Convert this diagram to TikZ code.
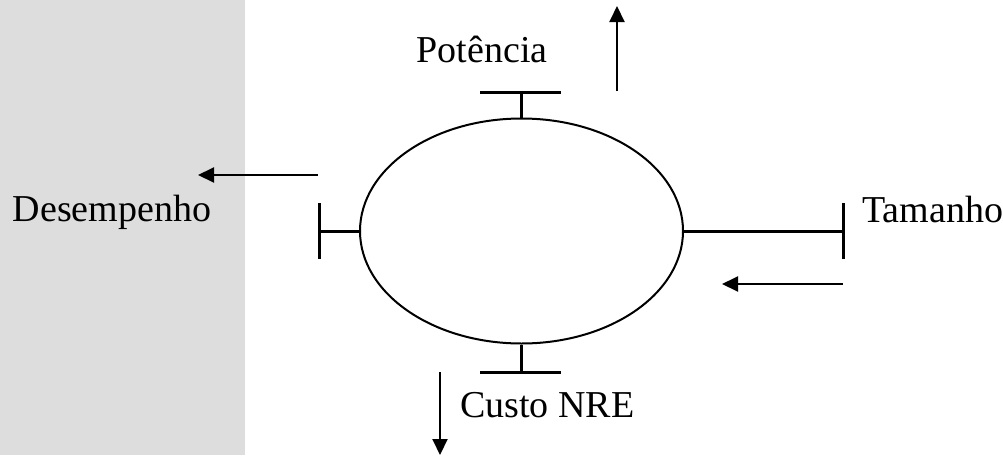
\documentclass[tikz,border=0pt]{standalone}
\usepackage{fontspec}
\setmainfont{Liberation Serif}
\usetikzlibrary{arrows.meta,shapes.geometric}
\begin{document}
\begin{tikzpicture}[x=1pt,y=-1pt,
  bar/.style={line width=3pt},
  push/.style={line width=2pt,-{Triangle[length=16pt,width=15pt]}},
  lbl/.style={font=\fontsize{38}{44}\selectfont,inner sep=0pt,anchor=base}]
  \useasboundingbox (0,0) rectangle (1003,455);
  % shaded panel on the left
  \fill[fill={rgb,255:red,221;green,221;blue,221}] (0,0) rectangle (245,455);
  % central ellipse
  \node[draw,line width=2pt,ellipse,minimum width=323pt,minimum height=225pt,inner sep=0pt] (e) at (521.5,231) {};
  % end points of the T-shaped bars
  \coordinate (tl1) at (319,203); \coordinate (tl2) at (319,259); \coordinate (tlm) at (319,231);
  \coordinate (tt1) at (480,92);  \coordinate (tt2) at (561,92);  \coordinate (ttm) at (521.5,92);
  \coordinate (tb1) at (480,372); \coordinate (tb2) at (561,372); \coordinate (tbm) at (521.5,372);
  \coordinate (tr1) at (843,203); \coordinate (tr2) at (843,259); \coordinate (trm) at (843,231);
  \draw[bar] (tl1) -- (tl2);
  \draw[bar] (tlm) -- (e.west);
  \draw[bar] (tt1) -- (tt2);
  \draw[bar] (ttm) -- (e.north);
  \draw[bar] (tb1) -- (tb2);
  \draw[bar] (tbm) -- (e.south);
  \draw[bar] (tr1) -- (tr2);
  \draw[bar] (trm) -- (e.east);
  % direction arrows
  \coordinate (al0) at (318,175); \coordinate (al1) at (198,175);
  \coordinate (au0) at (617,91);  \coordinate (au1) at (617,6);
  \coordinate (ad0) at (440,372); \coordinate (ad1) at (440,455);
  \coordinate (ar0) at (843,284); \coordinate (ar1) at (722,284);
  \draw[push] (al0) -- (al1);
  \draw[push] (au0) -- (au1);
  \draw[push] (ad0) -- (ad1);
  \draw[push] (ar0) -- (ar1);
  % labels
  \node[lbl] (pot) at (482,62) {Potência};
  \node[lbl] (des) at (112,221) {Desempenho};
  \node[lbl,anchor=base west] (tam) at (862,222) {Tamanho};
  \node[lbl,anchor=base west] (nre) at (460,417) {Custo NRE};
\end{tikzpicture}
\end{document}
